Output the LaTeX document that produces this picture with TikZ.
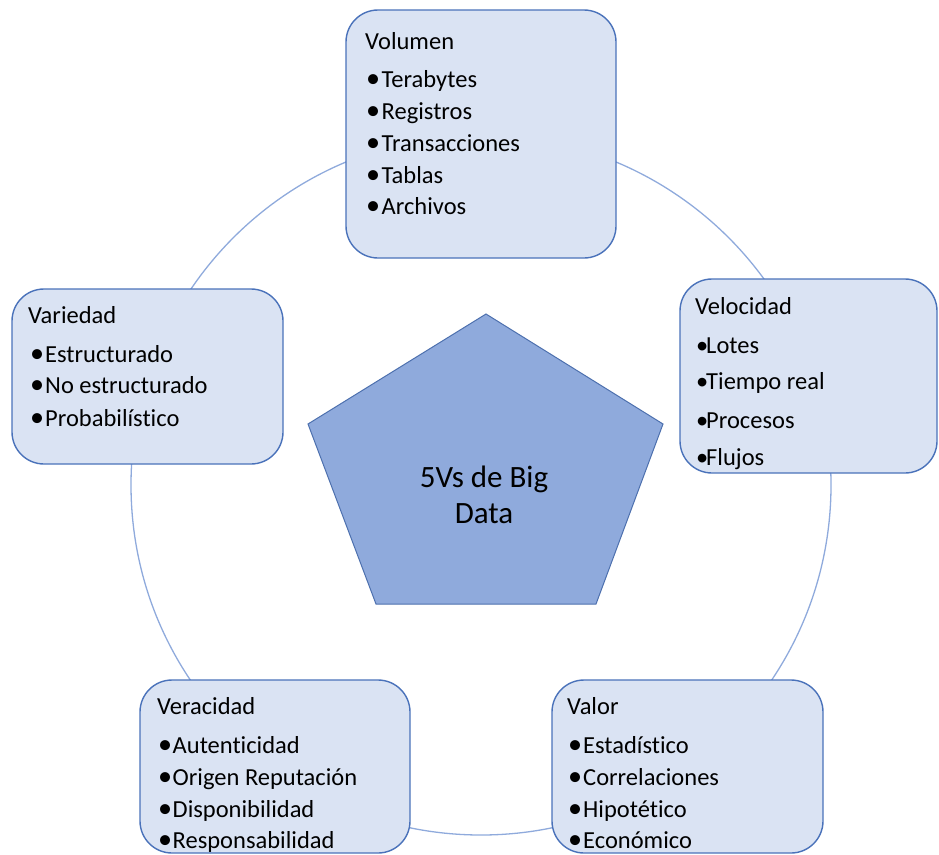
\documentclass[tikz,border=0pt]{standalone}
\usepackage{fontspec}
\setmainfont[Ligatures=CommonOff]{Carlito}
\definecolor{boxfill}{HTML}{DAE3F3}
\definecolor{boxedge}{HTML}{4A72BA}
\definecolor{ringline}{HTML}{8FAADC}
\definecolor{pentfill}{HTML}{8FAADC}
\definecolor{pentedge}{HTML}{4D70AE}
% a list entry: bullet in a box of given width, then the text
\newcommand\bulitem[2]{\makebox[#1][l]{\raisebox{-0.8pt}{\scalebox{1.15}{•}}}#2}
\newcommand\smallbulitem[2]{\makebox[#1][l]{•}#2}
\begin{document}
\begin{tikzpicture}[x=1pt,y=-1pt,
  vbox/.style={draw=boxedge, fill=boxfill, line width=1.4pt, rounded corners=32pt, inner sep=0pt},
  txt/.style={anchor=base west, inner sep=0pt, font=\fontsize{24.5}{28}\selectfont},
  coretxt/.style={anchor=base, inner sep=0pt, font=\fontsize{31}{36}\selectfont},
  ring/.style={draw=ringline, line width=1.3pt},
  pent/.style={draw=pentedge, fill=pentfill, line width=1pt, line join=miter}]
\useasboundingbox (0,0) rectangle (939,854);

% ring linking the five boxes
\coordinate (hub) at (481,485);
\draw[ring] (hub) circle (350pt);

% the five boxes
\node[vbox, minimum width=270pt, minimum height=248pt] (vol) at (481,134) {};
\node[vbox, minimum width=257pt, minimum height=194pt] (vel) at (808.5,376) {};
\node[vbox, minimum width=271pt, minimum height=173pt] (val) at (687.5,766.5) {};
\node[vbox, minimum width=270pt, minimum height=173pt] (ver) at (275,766.5) {};
\node[vbox, minimum width=271pt, minimum height=175pt] (var) at (147.5,376.5) {};

% central pentagon
\coordinate (p1) at (486,314);
\coordinate (p2) at (663,424);
\coordinate (p3) at (596,604);
\coordinate (p4) at (376,604);
\coordinate (p5) at (308,424);
\draw[pent] (p1) -- (p2) -- (p3) -- (p4) -- (p5) -- cycle;
\node[coretxt] (core1) at (484,487) {5Vs de Big};
\node[coretxt] (core2) at (484,523) {Data};

% Volumen
\node[txt] (vol-t) at (365,49) {Volumen};
\foreach \y/\t [count=\i] in {87/Terabytes, 119/Registros, 151/Transacciones, 183/Tablas, 214/Archivos}
  \node[txt] (vol-\i) at (366,\y) {\bulitem{15.5pt}{\t}};

% Velocidad
\node[txt] (vel-t) at (695,314) {Velocidad};
\foreach \y/\t [count=\i] in {353/Lotes, 389/Tiempo real, 428/Procesos, 465/Flujos}
  \node[txt] (vel-\i) at (696,\y) {\smallbulitem{10pt}{\t}};

% Variedad
\node[txt] (var-t) at (28,323) {Variedad};
\foreach \y/\t [count=\i] in {362/Estructurado, 393/No estructurado, 426/Probabilístico}
  \node[txt] (var-\i) at (30,\y) {\bulitem{15pt}{\t}};

% Veracidad
\node[txt] (ver-t) at (157,714) {Veracidad};
\foreach \y/\t [count=\i] in {753/Autenticidad, 785/Origen Reputación, 817/Disponibilidad, 848/Responsabilidad}
  \node[txt] (ver-\i) at (158,\y) {\bulitem{14.5pt}{\t}};

% Valor
\node[txt] (val-t) at (567,714) {Valor};
\foreach \y/\t [count=\i] in {753/Estadístico, 785/Correlaciones, 817/Hipotético, 848/Económico}
  \node[txt] (val-\i) at (568,\y) {\bulitem{15pt}{\t}};
\end{tikzpicture}
\end{document}
